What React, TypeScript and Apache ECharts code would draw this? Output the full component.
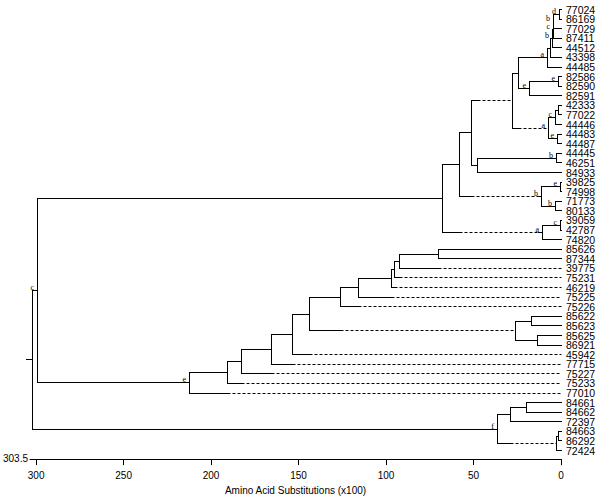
import React, { useEffect, useRef } from "react";
import * as echarts from "echarts";

// Leaves, top to bottom
const leafNames = [
  "77024", "86169", "77029", "87411", "44512", "43398", "44485",
  "82586", "82590", "82591", "42333", "77022", "44446", "44483", "44487",
  "44445", "46251", "84933", "39825", "74998", "71773", "80133",
  "39059", "42787", "74820",
  "85626", "87344", "39775", "75231", "46219", "75225", "75226",
  "85622", "85623", "85625", "86921", "45942", "77715", "75227", "75233", "77010",
  "84661", "84662", "72397", "84663", "86292", "72424",
];

type Cluster = [string, number, string[], string]; // id, height, children, annotation

const upperClusters: Cluster[] = [
  ["n01", 1.1, ["77024", "86169"], "d"],
  ["n02", 4.5, ["n01", "77029"], "b"],
  ["n03", 4.8, ["n02", "87411"], "c"],
  ["n04", 5.2, ["n03", "44512"], "b"],
  ["n05", 6.3, ["n04", "43398"], ""],
  ["n06", 8.0, ["n05", "44485"], "a"],
  ["n07", 1.7, ["82586", "82590"], "e"],
  ["n08", 18.1, ["n07", "82591"], "e"],
  ["n09", 24.6, ["n06", "n08"], ""],
  ["n10", 1.5, ["42333", "77022"], ""],
  ["n11", 3.6, ["n10", "44446"], "c"],
  ["n12", 2.4, ["44483", "44487"], "e"],
  ["n13", 7.5, ["n11", "n12"], "a"],
  ["n14", 28.0, ["n09", "n13"], ""],
  ["n15", 2.9, ["44445", "46251"], "b"],
  ["n16", 48.0, ["n15", "84933"], ""],
  ["n17", 51.6, ["n14", "n16"], ""],
  ["n18", 0.6, ["39825", "74998"], "e"],
  ["n19", 3.6, ["71773", "80133"], "b"],
  ["n20", 11.4, ["n18", "n19"], "b"],
  ["n21", 58.5, ["n17", "n20"], ""],
  ["n22", 0.6, ["39059", "42787"], "c"],
  ["n23", 11.0, ["n22", "74820"], "a"],
  ["n24", 68.2, ["n21", "n23"], ""],
];

const lowerClusters: Cluster[] = [
  ["m01", 70.1, ["85626", "87344"], ""],
  ["m02", 92.4, ["m01", "39775"], ""],
  ["m03", 95.5, ["m02", "75231"], ""],
  ["m04", 97.0, ["m03", "46219"], ""],
  ["m05", 115.8, ["m04", "75225"], ""],
  ["m06", 126.3, ["m05", "75226"], ""],
  ["m07", 17.1, ["85622", "85623"], ""],
  ["m08", 13.9, ["85625", "86921"], ""],
  ["m09", 26.3, ["m07", "m08"], ""],
  ["m10", 143.8, ["m06", "m09"], ""],
  ["m11", 153.9, ["m10", "45942"], ""],
  ["m12", 165.7, ["m11", "77715"], ""],
  ["m13", 182.9, ["m12", "75227"], ""],
  ["m14", 191.0, ["m13", "75233"], ""],
  ["m15", 212.6, ["m14", "77010"], "e"],
];

const outgroupClusters: Cluster[] = [
  ["f1", 20.2, ["84661", "84662"], ""],
  ["f2", 29.1, ["f1", "72397"], ""],
  ["f3", 1.5, ["84663", "86292"], ""],
  ["f4", 2.9, ["f3", "72424"], ""],
  ["f5", 36.8, ["f2", "f4"], "f"],
];

const rootClusters: Cluster[] = [
  ["c1", 299.6, ["n24", "m15"], "c"],
  ["root", 302.5, ["c1", "f5"], ""],
];

// dashed stretch on the branch leading to a node: [node, from height, to height]
const dashedBranches: [string, number, number][] = [
  ["n14", 48.0, 28.0],
  ["n13", 24.6, 7.5],
  ["n20", 51.6, 13.0],
  ["n23", 58.5, 13.0],
  ["39775", 70.1, 0],
  ["75231", 92.4, 0],
  ["46219", 95.5, 0],
  ["75225", 97.0, 0],
  ["75226", 115.8, 0],
  ["m09", 126.3, 26.3],
  ["45942", 143.8, 0],
  ["77715", 153.9, 0],
  ["75227", 165.7, 0],
  ["75233", 182.9, 0],
  ["77010", 191.0, 0],
  ["f4", 29.1, 2.9],
];

const rootStubHeight = 305.7;
const axisTicks = [0, 50, 100, 150, 200, 250, 300];
const axisMax = 303.5;
const leafAxisMax = 46.94;
const axisTitle = "Amino Acid Substitutions (x100)";

// ---- derived geometry (in data units) ----
const allClusters: Cluster[] = [
  ...upperClusters, ...lowerClusters, ...outgroupClusters, ...rootClusters,
];
const heightOf: Record<string, number> = {};
const yOf: Record<string, number> = {};
leafNames.forEach((n, i) => { heightOf[n] = 0; yOf[n] = i; });
allClusters.forEach(([id, h, ch]) => {
  heightOf[id] = h;
  yOf[id] = (yOf[ch[0]] + yOf[ch[ch.length - 1]]) / 2;
});

const segments: number[][] = [];
allClusters.forEach(([, h, ch]) => {
  segments.push([h, yOf[ch[0]], h, yOf[ch[ch.length - 1]], 0]);
  ch.forEach((c) => {
    const y = yOf[c];
    const ch_h = heightOf[c];
    const d = dashedBranches.find((b) => b[0] === c);
    if (d) {
      if (h > d[1]) segments.push([h, y, d[1], y, 0]);
      segments.push([d[1], y, d[2], y, 1]);
      if (d[2] > ch_h) segments.push([d[2], y, ch_h, y, 0]);
    } else {
      segments.push([h, y, ch_h, y, 0]);
    }
  });
});
segments.push([rootStubHeight, yOf["root"], heightOf["root"], yOf["root"], 0]);

const annotations = allClusters
  .filter((c) => c[3] !== "")
  .map((c) => [heightOf[c[0]], yOf[c[0]], c[3]] as [number, number, string]);
const leafData = leafNames.map((n, i) => [0, i, n] as [number, number, string]);

const snap = (v: number) => Math.round(v) + 0.5;

export default function App() {
  const ref = useRef<HTMLDivElement>(null);
  useEffect(() => {
    if (!ref.current) return;
    const chart = echarts.init(ref.current, null, { renderer: "svg" });
    chart.setOption({
      animation: false,
      backgroundColor: "#fff",
      grid: { left: 30, right: 39, top: 9, bottom: 40, containLabel: false },
      xAxis: {
        type: "value",
        inverse: true,
        min: 0,
        max: axisMax,
        position: "bottom",
        splitLine: { show: false },
        axisLine: { show: true, onZero: false, lineStyle: { color: "#000", width: 1 } },
        axisTick: { show: true, length: 6, customValues: axisTicks, lineStyle: { color: "#000" } },
        axisLabel: {
          customValues: axisTicks,
          color: "#000",
          fontSize: 10,
          fontFamily: "Liberation Sans",
          margin: 11,
        },
        name: axisTitle,
        nameLocation: "middle",
        nameGap: 22,
        nameTextStyle: { color: "#000", fontSize: 10, fontFamily: "Liberation Sans" },
      },
      yAxis: {
        type: "value",
        inverse: true,
        min: 0,
        max: leafAxisMax,
        show: false,
      },
      series: [
        {
          type: "custom",
          clip: false,
          data: segments,
          encode: { x: [0, 2], y: [1, 3] },
          renderItem: (params: any, api: any) => {
            const s = segments[params.dataIndex];
            const p1 = api.coord([s[0], s[1]]);
            const p2 = api.coord([s[2], s[3]]);
            const dashed = s[4] === 1;
            return {
              type: "line",
              shape: { x1: snap(p1[0]), y1: snap(p1[1]), x2: snap(p2[0]), y2: snap(p2[1]) },
              style: {
                stroke: "#000",
                lineWidth: 1,
                lineCap: dashed ? "butt" : "square",
                lineDash: dashed ? [3, 2] : null,
              },
            };
          },
        },
        {
          type: "custom",
          clip: false,
          data: annotations.map((a) => [a[0], a[1]]),
          renderItem: (params: any, api: any) => {
            const a = annotations[params.dataIndex];
            const p = api.coord([a[0], a[1]]);
            return {
              type: "text",
              x: Math.round(p[0]) - 3,
              y: Math.round(p[1]) + 1,
              style: {
                text: a[2],
                fill: "#000",
                font: '8px "Liberation Serif"',
                align: "right",
                verticalAlign: "bottom",
              },
            };
          },
        },
        {
          type: "custom",
          clip: false,
          data: leafData.map((l) => [l[0], l[1]]),
          renderItem: (params: any, api: any) => {
            const l = leafData[params.dataIndex];
            const p = api.coord([l[0], l[1]]);
            return {
              type: "text",
              x: p[0] + 5,
              y: p[1] + 0.5,
              style: {
                text: l[2],
                fill: "#000",
                font: '10.5px "Liberation Sans"',
                lineHeight: 9,
                align: "left",
                verticalAlign: "middle",
              },
            };
          },
        },
      ],
    });
    const px = chart.convertToPixel({ xAxisIndex: 0 }, axisMax) as number;
    const py = chart.convertToPixel({ yAxisIndex: 0 }, leafAxisMax) as number;
    chart.setOption({
      graphic: [
        {
          type: "text",
          x: px - 2,
          y: py - 1,
          style: {
            text: String(axisMax),
            fill: "#000",
            font: '10px "Liberation Sans"',
            align: "right",
            verticalAlign: "middle",
          },
        },
      ],
    });
    return () => chart.dispose();
  }, []);
  return (
    <div
      ref={ref}
      style={{ width: 600, height: 500, position: "absolute", left: 0, top: 0 }}
    />
  );
}
